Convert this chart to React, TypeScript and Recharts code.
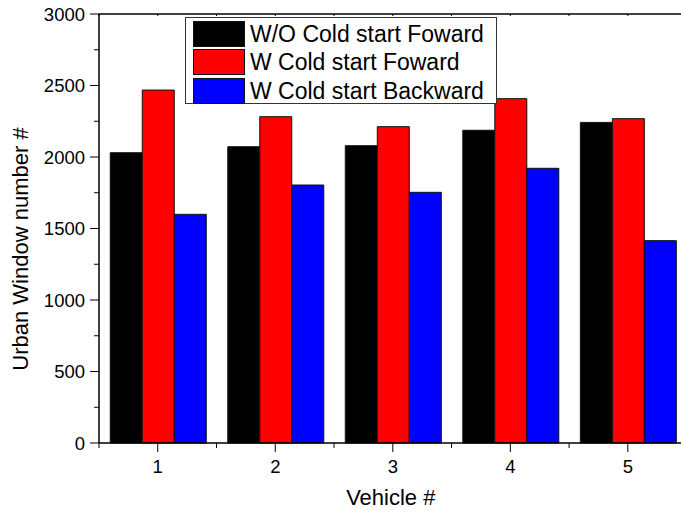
import React from 'react';
import { BarChart, Bar, XAxis, YAxis, Legend } from 'recharts';

const categories = ['1', '2', '3', '4', '5'];
const woColdForward = [2030, 2072, 2079, 2187, 2242];
const wColdForward = [2468, 2282, 2212, 2408, 2268];
const wColdBackward = [1599, 1804, 1753, 1921, 1415];
const seriesNames = ['W/O Cold start Foward', 'W Cold start Foward', 'W Cold start Backward'];
const seriesKeys = ['a', 'b', 'c'];
const seriesColors = ['#000000', '#ff0000', '#0000ff'];
const yTicks = [0, 250, 500, 750, 1000, 1250, 1500, 1750, 2000, 2250, 2500, 2750, 3000];
const xTicks = [0.5, 1, 1.5, 2, 2.5, 3, 3.5, 4, 4.5, 5, 5.5];
const xLabel = 'Vehicle #';
const yLabel = 'Urban Window number #';

const data = categories.map((c, i) => ({
  name: c,
  v: i + 1,
  a: woColdForward[i],
  b: wColdForward[i],
  c: wColdBackward[i],
}));

const FONT = '"Liberation Sans", Arial, sans-serif';

const LeftTick = (props: any) => {
  const { x, y, payload } = props;
  const major = payload.value % 500 === 0;
  return (
    <g>
      <line x1={x - (major ? 9 : 5)} x2={x} y1={y} y2={y} stroke="#000" strokeWidth={1} />
      {major && (
        <text x={x - 14} y={y} dy="0.36em" textAnchor="end" fontSize={18.5} fontFamily={FONT} fill="#000">
          {payload.value}
        </text>
      )}
    </g>
  );
};

const RightTick = (props: any) => {
  const { x, y, payload } = props;
  const major = payload.value % 500 === 0;
  return <line x1={x - (major ? 9 : 5)} x2={x} y1={y} y2={y} stroke="#000" strokeWidth={1} />;
};

const BottomTick = (props: any) => {
  const { x, y, payload } = props;
  const major = Number.isInteger(payload.value);
  return (
    <g>
      <line x1={x} x2={x} y1={y} y2={y + (major ? 9 : 5)} stroke="#000" strokeWidth={1} />
      {major && (
        <text x={x} y={y + 23} dy="0.36em" textAnchor="middle" fontSize={18.5} fontFamily={FONT} fill="#000">
          {categories[payload.value - 1]}
        </text>
      )}
    </g>
  );
};

const TopTick = (props: any) => {
  const { x, y } = props;
  return <line x1={x} x2={x} y1={y} y2={y + 2} stroke="#000" strokeWidth={1} />;
};

const LegendBox = () => (
  <div
    style={{
      width: 310,
      height: 85,
      border: '1px solid #333',
      background: '#fff',
      boxSizing: 'content-box',
      position: 'relative',
      fontFamily: FONT,
    }}
  >
    {seriesNames.map((n, i) => (
      <div key={n} style={{ position: 'absolute', left: 7, top: 3 + i * 28.3, height: 26, display: 'flex', alignItems: 'center' }}>
        <div style={{ width: 50, height: 24, background: seriesColors[i], border: '1px solid #111' }} />
        <span style={{ marginLeft: 5, fontSize: 23, lineHeight: '26px', color: '#000', whiteSpace: 'nowrap' }}>{n}</span>
      </div>
    ))}
  </div>
);

export default function App() {
  return (
    <div style={{ position: 'absolute', left: 0, top: 0, width: 681, height: 514, overflow: 'hidden', background: '#fff' }}>
      <BarChart
        width={700}
        height={514}
        data={data}
        margin={{ top: 0, right: 0, bottom: 0, left: 0 }}
        barCategoryGap={11.25}
        barGap={0}
      >
        <XAxis xAxisId="cat" dataKey="name" hide />
        <XAxis
          xAxisId="bottom"
          dataKey="v"
          type="number"
          domain={[0.5, 5.5]}
          allowDataOverflow
          ticks={xTicks}
          interval={0}
          orientation="bottom"
          height={71}
          tickSize={0}
          tickMargin={0}
          tickLine={false}
          tick={<BottomTick />}
          axisLine={{ stroke: '#000', strokeWidth: 1.5 }}
          label={{
            content: (p: any) => (
              <text
                x={p.viewBox.x + p.viewBox.width / 2 - 2}
                y={p.viewBox.y + 54}
                dy="0.36em"
                textAnchor="middle"
                fontSize={22}
                fontFamily={FONT}
                fill="#000"
              >
                {xLabel}
              </text>
            ),
          }}
        />
        <XAxis
          xAxisId="top"
          dataKey="v"
          type="number"
          domain={[0.5, 5.5]}
          allowDataOverflow
          ticks={xTicks}
          interval={0}
          orientation="top"
          height={14}
          tickSize={0}
          tickMargin={0}
          tickLine={false}
          tick={<TopTick />}
          axisLine={{ stroke: '#000', strokeWidth: 1.5 }}
        />
        <YAxis
          yAxisId="left"
          domain={[0, 3000]}
          ticks={yTicks}
          interval={0}
          width={99}
          tickSize={0}
          tickMargin={0}
          tickLine={false}
          tick={<LeftTick />}
          axisLine={{ stroke: '#000', strokeWidth: 1.5 }}
          label={{
            content: () => (
              <text
                x={20}
                y={249}
                dy="0.36em"
                textAnchor="middle"
                fontSize={22}
                fontFamily={FONT}
                fill="#000"
                transform="rotate(-90 20 249)"
              >
                {yLabel}
              </text>
            ),
          }}
        />
        <YAxis
          yAxisId="right"
          orientation="right"
          domain={[0, 3000]}
          ticks={yTicks}
          interval={0}
          width={13.4}
          tickSize={0}
          tickMargin={0}
          tickLine={false}
          tick={<RightTick />}
          axisLine={{ stroke: '#000', strokeWidth: 1.5 }}
        />
        <Legend
          layout="vertical"
          verticalAlign="middle"
          align="center"
          wrapperStyle={{ position: 'absolute', left: 185, top: 17, width: 312, height: 87 }}
          content={() => <LegendBox />}
        />
        {seriesKeys.map((k, i) => (
          <Bar
            key={k}
            xAxisId="cat"
            yAxisId="left"
            dataKey={k}
            name={seriesNames[i]}
            fill={seriesColors[i]}
            stroke="#111"
            strokeWidth={1}
            isAnimationActive={false}
          />
        ))}
      </BarChart>
    </div>
  );
}
